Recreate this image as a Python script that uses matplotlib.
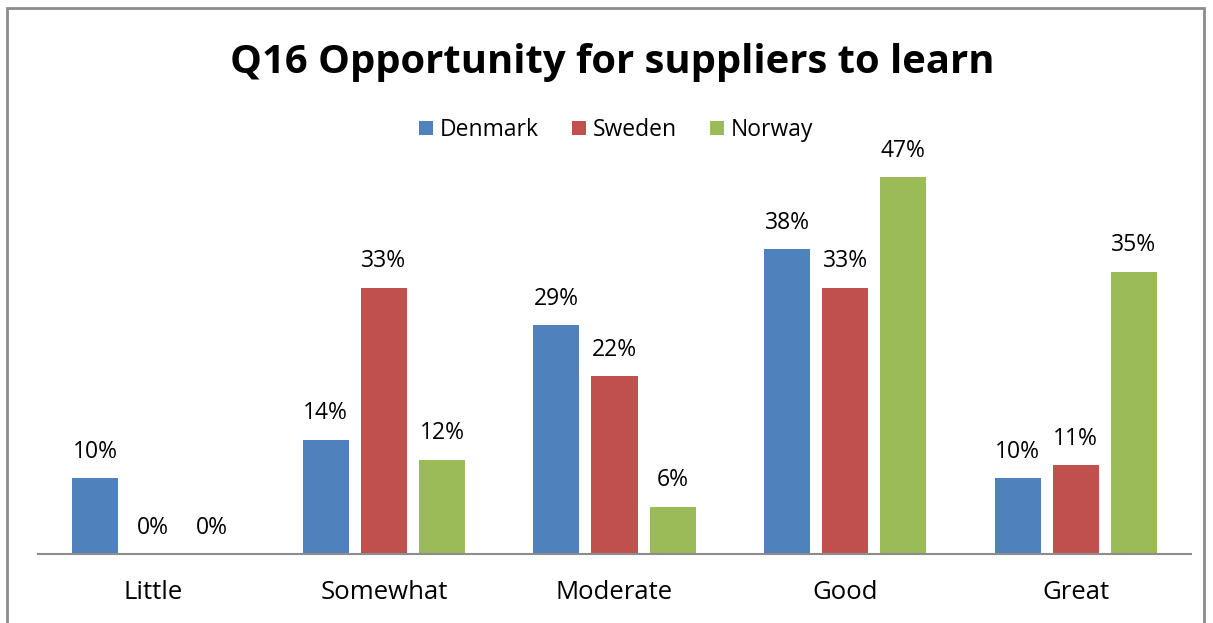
import matplotlib.pyplot as plt
import numpy as np
from matplotlib.patches import Rectangle

plt.rcParams['font.family'] = ['Open Sans', 'DejaVu Sans']

categories = ['Little', 'Somewhat', 'Moderate', 'Good', 'Great']
series = ['Denmark', 'Sweden', 'Norway']
denmark = [9.5, 14.3, 28.6, 38.1, 9.5]
sweden = [0, 33.3, 22.2, 33.3, 11.1]
norway = [0, 11.8, 5.9, 47.1, 35.3]
colors = ['#4F81BD', '#C0504D', '#9BBB59']

fig = plt.figure(figsize=(12.13, 6.23), dpi=100)
ax = fig.add_axes([38/1213, 1-554/623, (1191-38)/1213, 400/623])

x = np.arange(len(categories))
w = 0.2
step = 0.252
for k, (vals, name) in enumerate(zip([denmark, sweden, norway], series)):
    pos = x + (k-1)*step
    ax.bar(pos, vals, w, color=colors[k], label=name, zorder=2)
    for p, v in zip(pos, vals):
        ax.annotate('%.0f%%' % v, (p, v), xytext=(0, 19), textcoords='offset points',
                    ha='center', va='center', fontsize=16.5)

ax.set_xlim(-0.5, 4.5)
ax.set_ylim(0, 50)
ax.set_yticks([])
ax.set_xticks(x)
ax.set_xticklabels(categories, fontsize=18.5)
ax.tick_params(axis='x', length=0, pad=19)
for s in ['top', 'right', 'left']:
    ax.spines[s].set_visible(False)
ax.spines['bottom'].set_color('#8c8c8c')
ax.spines['bottom'].set_linewidth(1.5)

fig.text(0.505, 1-62/623, 'Q16 Opportunity for suppliers to learn', ha='center', va='center',
         fontsize=28.8, fontweight='bold')
leg = fig.legend(loc='center', bbox_to_anchor=(0.508, 1-130/623), ncol=3, frameon=False,
                 fontsize=16.5, handlelength=0.6, handleheight=0.6, handletextpad=0.3,
                 columnspacing=1.45)

fig.patches.append(Rectangle((7/1213, -0.1), (1204-7)/1213, 1.1-8/623, transform=fig.transFigure,
                             fill=False, edgecolor='#8c8c8c', linewidth=2))

fig.savefig('out.png', dpi=100)
